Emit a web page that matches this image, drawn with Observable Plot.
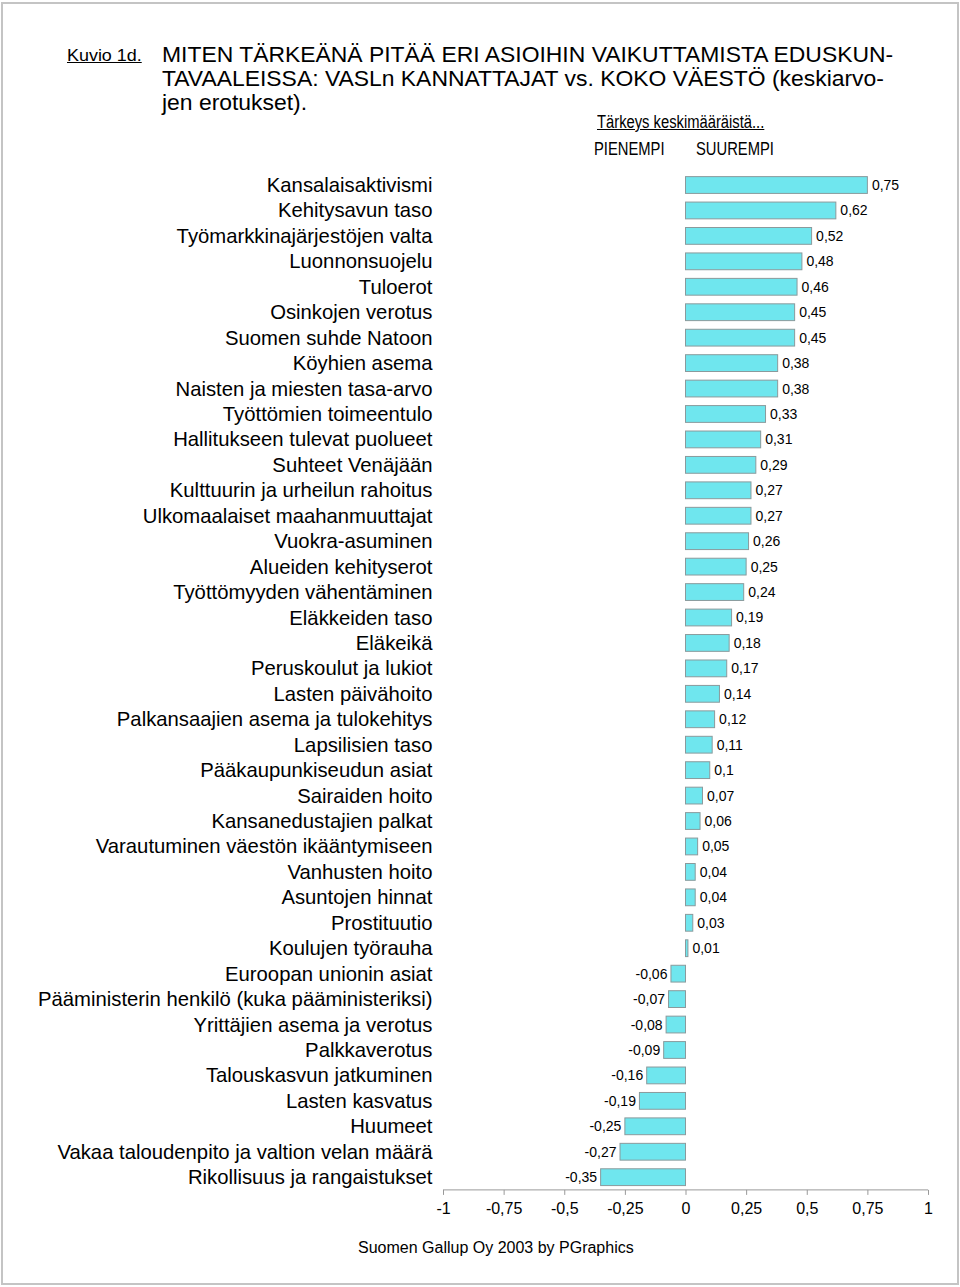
<!DOCTYPE html>
<html>
<head>
<meta charset="utf-8">
<script src="https://cdn.jsdelivr.net/npm/d3@7"></script>
<script src="https://cdn.jsdelivr.net/npm/@observablehq/plot@0.6"></script>
<style>
  html, body { margin: 0; padding: 0; background: #fff; }
  #page { position: relative; width: 960px; height: 1287px; overflow: hidden; font-family: "Liberation Sans", Arial, sans-serif; }
  #border { position: absolute; left: 1px; top: 2px; width: 954px; height: 1279px; border: 2px solid #c4c4c4; box-sizing: content-box; }
  .abs { position: absolute; white-space: nowrap; color: #000; transform-origin: 0 0; }
  .cond { transform: scaleX(0.82); }
  #chart { position: absolute; left: 0; top: 0; }
</style>
</head>
<body>
<div id="page">
  <div id="chart"></div>
  <div id="border"></div>
  <div class="abs" style="left:67px; top:48.4px; font-size:16px; line-height:16px; text-decoration:underline; transform:scaleX(1.12);">Kuvio 1d.</div>
  <div class="abs" style="left:162px; top:42.6px; font-size:21.5px; line-height:24px; transform:scaleX(1.065);">MITEN TÄRKEÄNÄ PITÄÄ ERI ASIOIHIN VAIKUTTAMISTA EDUSKUN-<br>TAVAALEISSA: VASLn KANNATTAJAT vs. KOKO VÄESTÖ (keskiarvo-<br>jen erotukset).</div>
  <div class="abs cond" style="left:597px; top:113px; font-size:18px; line-height:18px; text-decoration:underline;">Tärkeys keskimääräistä...</div>
  <div class="abs cond" style="left:594px; top:140px; font-size:18px; line-height:18px;">PIENEMPI</div>
  <div class="abs cond" style="left:696px; top:140px; font-size:18px; line-height:18px;">SUUREMPI</div>
  <div class="abs" style="left:358px; top:1240px; font-size:16px; line-height:16px;">Suomen Gallup Oy 2003 by PGraphics</div>
</div>
<script>
const categories = [
  "Kansalaisaktivismi",
  "Kehitysavun taso",
  "Työmarkkinajärjestöjen valta",
  "Luonnonsuojelu",
  "Tuloerot",
  "Osinkojen verotus",
  "Suomen suhde Natoon",
  "Köyhien asema",
  "Naisten ja miesten tasa-arvo",
  "Työttömien toimeentulo",
  "Hallitukseen tulevat puolueet",
  "Suhteet Venäjään",
  "Kulttuurin ja urheilun rahoitus",
  "Ulkomaalaiset maahanmuuttajat",
  "Vuokra-asuminen",
  "Alueiden kehityserot",
  "Työttömyyden vähentäminen",
  "Eläkkeiden taso",
  "Eläkeikä",
  "Peruskoulut ja lukiot",
  "Lasten päivähoito",
  "Palkansaajien asema ja tulokehitys",
  "Lapsilisien taso",
  "Pääkaupunkiseudun asiat",
  "Sairaiden hoito",
  "Kansanedustajien palkat",
  "Varautuminen väestön ikääntymiseen",
  "Vanhusten hoito",
  "Asuntojen hinnat",
  "Prostituutio",
  "Koulujen työrauha",
  "Euroopan unionin asiat",
  "Pääministerin henkilö (kuka pääministeriksi)",
  "Yrittäjien asema ja verotus",
  "Palkkaverotus",
  "Talouskasvun jatkuminen",
  "Lasten kasvatus",
  "Huumeet",
  "Vakaa taloudenpito ja valtion velan määrä",
  "Rikollisuus ja rangaistukset"
];
const values = [
  0.75, 0.62, 0.52, 0.48, 0.46, 0.45, 0.45, 0.38, 0.38, 0.33,
  0.31, 0.29, 0.27, 0.27, 0.26, 0.25, 0.24, 0.19, 0.18, 0.17,
  0.14, 0.12, 0.11, 0.1, 0.07, 0.06, 0.05, 0.04, 0.04, 0.03,
  0.01, -0.06, -0.07, -0.08, -0.09, -0.16, -0.19, -0.25, -0.27, -0.35
];
const xTicks = [-1, -0.75, -0.5, -0.25, 0, 0.25, 0.5, 0.75, 1];

const fmt = v => String(v).replace(".", ",");
const data = categories.map((c, i) => ({category: c, value: values[i]}));
const pos = data.filter(d => d.value >= 0);
const neg = data.filter(d => d.value < 0);

const W = 960, H = 1287;
const plot = Plot.plot({
  width: W,
  height: H,
  marginLeft: 443,
  marginRight: 32,
  marginTop: 172.3,
  marginBottom: 97.1,
  style: {background: "transparent", fontFamily: "'Liberation Sans', Arial, sans-serif", color: "#000"},
  x: {domain: [-1, 1], ticks: xTicks, tickFormat: fmt, label: null},
  y: {domain: categories, paddingInner: 0.34, paddingOuter: 0.17, align: 0.5, round: false, label: null},
  marks: [
    Plot.barX(data, {x: "value", y: "category", fill: "#6fe6ee", stroke: "#8a9a9c", strokeWidth: 1}),
    Plot.text(pos, {x: "value", y: "category", text: d => fmt(d.value), textAnchor: "start", dx: 4, fontSize: 14, fill: "#000"}),
    Plot.text(neg, {x: "value", y: "category", text: d => fmt(d.value), textAnchor: "end", dx: -4, fontSize: 14, fill: "#000"}),
    Plot.axisY({tickSize: 0, tickPadding: 11, fontSize: 20.3, label: null}),
    Plot.axisX({ticks: xTicks, tickFormat: fmt, tickSize: 5, tickPadding: 7, fontSize: 16, stroke: "#999", label: null})
  ]
});
// axis baseline drawn from the plot's own scales
const xs = plot.scale("x"), ys = plot.scale("y");
const yBase = ys.range[1];
d3.select(plot).append("line")
  .attr("x1", xs.apply(xTicks[0])).attr("x2", xs.apply(xTicks[xTicks.length - 1]))
  .attr("y1", yBase).attr("y2", yBase)
  .attr("stroke", "#999").attr("stroke-width", 1);
document.getElementById("chart").appendChild(plot);
</script>
</body>
</html>
